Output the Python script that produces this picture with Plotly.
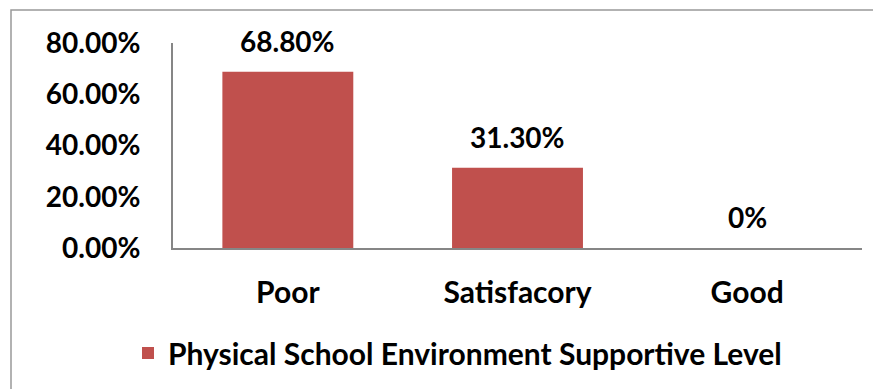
import plotly.graph_objects as go

categories = ["Poor", "Satisfacory", "Good"]
values = [68.8, 31.3, 0.0]
value_labels = ["68.80%", "31.30%", "0%"]
tick_vals = [0, 20, 40, 60, 80]
tick_text = ["0.00%", "20.00%", "40.00%", "60.00%", "80.00%"]
series_name = "Physical School Environment Supportive Level"

FONT = "Lato, 'Open Sans', sans-serif"
W, H = 881, 389
OFF = 8  # page body offset
SX0, SX1, SY0, SY1 = 173, 862, 43, 248
L = SX0 - OFF
R = W - (SX1 - OFF)
T = SY0 - OFF
B = H - (SY1 - OFF)
pw, ph = SX1 - SX0, SY1 - SY0

def px_x(p):
    return (p - SX0) / pw

def px_y(p):
    return (SY1 - p) / ph

def f(size):
    return dict(family=FONT, size=size, color="#000000", weight="bold")

fig = go.Figure()
fig.add_trace(go.Bar(
    x=categories, y=values, name=series_name,
    marker=dict(color="#C0504D", line=dict(width=0)),
    width=0.57,
))

for c, v, t in zip(categories, values, value_labels):
    fig.add_annotation(x=c, y=v, text=t, showarrow=False, yanchor="bottom",
                       yshift=12, font=f(28))

fig.update_layout(
    width=W, height=H,
    margin=dict(l=L, r=R, t=T, b=B),
    paper_bgcolor="white", plot_bgcolor="white",
    font=f(28),
    showlegend=True,
    legend=dict(orientation="h", x=px_x(128), xanchor="left", y=px_y(353), yanchor="middle",
                font=f(30), itemwidth=30),
    xaxis=dict(showline=True, linecolor="#868686", linewidth=2, showgrid=False,
               ticks="", ticklabelstandoff=17, zeroline=False, tickfont=f(30)),
    yaxis=dict(range=[0, 80], tickvals=tick_vals, ticktext=tick_text,
               showline=True, linecolor="#868686", linewidth=2, showgrid=False,
               zeroline=False, ticks="", ticklabelstandoff=25, tickfont=f(28)),
    bargap=0.43,
    shapes=[dict(type="rect", xref="paper", yref="paper",
                 x0=px_x(11), x1=px_x(890), y0=px_y(400), y1=px_y(10),
                 line=dict(color="#999999", width=1.5), fillcolor="rgba(0,0,0,0)",
                 layer="below")],
)

fig.write_html("out.html")
